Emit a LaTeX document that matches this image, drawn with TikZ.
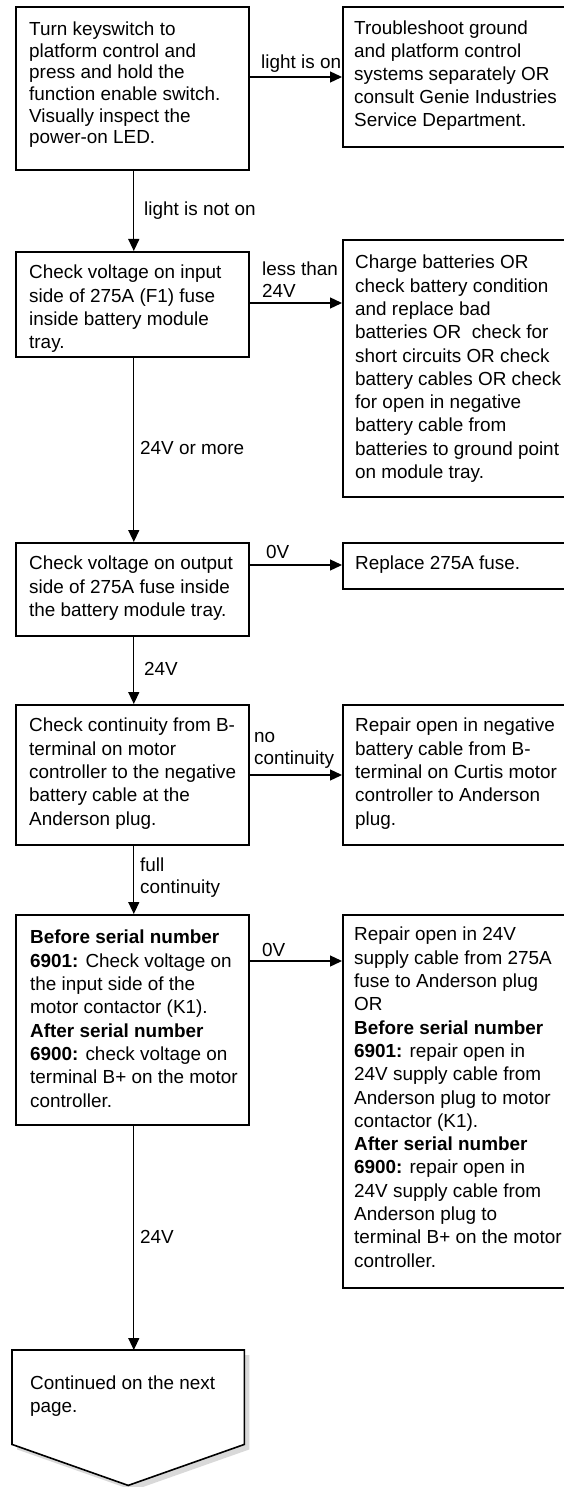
\documentclass[tikz,border=0pt]{standalone}
\usepackage{fontspec}
\setmainfont{Liberation Sans}
\usetikzlibrary{arrows.meta,calc}
\tikzset{
  box/.style={draw=black, line width=1.6pt, inner sep=0pt, anchor=north west, fill=white},
  txt/.style={inner sep=0pt, anchor=north west, align=left, font=\fontsize{18.9}{23.3}\selectfont},
  lbl/.style={inner sep=0pt, anchor=north west, align=left, font=\fontsize{18.9}{21.7}\selectfont},
  arr/.style={line width=1.3pt, -{Triangle[length=12pt,width=11pt]}},
}
\begin{document}
\begin{tikzpicture}[x=1pt,y=-1pt]
\useasboundingbox[fill=white] (0,0) rectangle (564,1487);

% left column boxes
\node[box, minimum width=233pt, minimum height=163pt] (b1) at (15,6) {};
\node[box, minimum width=233pt, minimum height=105pt] (b2) at (15,251) {};
\node[box, minimum width=233pt, minimum height=93pt]  (b3) at (15,542) {};
\node[box, minimum width=233pt, minimum height=140pt] (b4) at (15,704) {};
\node[box, minimum width=233pt, minimum height=210pt] (b5) at (15,914) {};

% right column boxes
\node[box, minimum width=226pt, minimum height=140pt] (r1) at (342,6) {};
\node[box, minimum width=226pt, minimum height=257pt] (r2) at (342,239) {};
\node[box, minimum width=226pt, minimum height=46pt]  (r3) at (342,542) {};
\node[box, minimum width=226pt, minimum height=140pt] (r4) at (342,704) {};
\node[box, minimum width=226pt, minimum height=373pt] (r5) at (342,914) {};

% off-page connector
\node[inner sep=0pt, anchor=north west, minimum width=232pt, minimum height=94pt] (e) at (12,1350) {};
\fill[black!15] ([xshift=5pt,yshift=-5pt]e.north west) -- ([xshift=5pt,yshift=-5pt]e.north east)
  -- ([xshift=5pt,yshift=-5pt]e.south east) -- ([xshift=5pt,yshift=-46pt]e.south)
  -- ([xshift=5pt,yshift=-5pt]e.south west) -- cycle;
\draw[line width=1.6pt, fill=white] (e.north west) -- (e.north east) -- (e.south east)
  -- ([yshift=-41pt]e.south) -- (e.south west) -- cycle;

% texts
\node[txt, font=\fontsize{18.9}{21.7}\selectfont] (t1) at (29,21.5) {Turn keyswitch to\\platform control and\\press and hold the\\function enable switch.\\Visually inspect the\\power-on LED.};
\node[txt, font=\fontsize{18.9}{23}\selectfont] (tr1) at (354,21) {Troubleshoot ground\\and platform control\\systems separately OR\\consult Genie Industries\\Service Department.};
\node[txt] (t2) at (29,265) {Check voltage on input\\side of 275A (F1) fuse\\inside battery module\\tray.};
\node[txt] (tr2) at (355,255) {Charge batteries OR\\check battery condition\\and replace bad\\batteries OR\ \ check for\\short circuits OR check\\battery cables OR check\\for open in negative\\battery cable from\\batteries to ground point\\on module tray.};
\node[txt] (t3) at (29,556) {Check voltage on output\\side of 275A fuse inside\\the battery module tray.};
\node[txt] (tr3) at (355,556) {Replace 275A fuse.};
\node[txt] (t4) at (29,718) {Check continuity from B-\\terminal on motor\\controller to the negative\\battery cable at the\\Anderson plug.};
\node[txt] (tr4) at (355,718) {Repair open in negative\\battery cable from B-\\terminal on Curtis motor\\controller to Anderson\\plug.};
\node[txt] (t5) at (30,930) {\textbf{Before serial number}\\\textbf{6901:} Check voltage on\\the input side of the\\motor contactor (K1).\\\textbf{After serial number}\\\textbf{6900:} check voltage on\\terminal B+ on the motor\\controller.};
\node[txt] (tr5) at (354,927) {Repair open in 24V\\supply cable from 275A\\fuse to Anderson plug\\OR\\\textbf{Before serial number}\\\textbf{6901:} repair open in\\24V supply cable from\\Anderson plug to motor\\contactor (K1).\\\textbf{After serial number}\\\textbf{6900:} repair open in\\24V supply cable from\\Anderson plug to\\terminal B+ on the motor\\controller.};
\node[txt, font=\fontsize{18.9}{22.7}\selectfont] (te) at (30,1376) {Continued on the next\\page.};

% connectors
\draw[arr] ([yshift=-71pt]b1.north east) -- ([yshift=-71pt]b1.north east -| r1.west);
\draw[arr] ([yshift=-52pt]b2.north east) -- ([yshift=-52pt]b2.north east -| r2.west);
\draw[arr] ([yshift=-23pt]b3.north east) -- ([yshift=-23pt]b3.north east -| r3.west);
\draw[arr] ([yshift=-71pt]b4.north east) -- ([yshift=-71pt]b4.north east -| r4.west);
\draw[arr] ([yshift=-47pt]b5.north east) -- ([yshift=-47pt]b5.north east -| r5.west);

\draw[arr] ([xshift=1.5pt]b1.south) -- ([xshift=1.5pt]b1.south |- b2.north);
\draw[arr] ([xshift=1.5pt]b2.south) -- ([xshift=1.5pt]b2.south |- b3.north);
\draw[arr] ([xshift=1.5pt]b3.south) -- ([xshift=1.5pt]b3.south |- b4.north);
\draw[arr] ([xshift=1.5pt]b4.south) -- ([xshift=1.5pt]b4.south |- b5.north);
\draw[arr] ([xshift=1.5pt]b5.south) -- ([xshift=1.5pt]b5.south |- e.north);

% connector labels
\node[lbl] (l1) at (261,55) {light is on};
\node[lbl] (l2) at (144,201.5) {light is not on};
\node[lbl] (l3) at (262,262) {less than\\24V};
\node[lbl] (l4) at (140,441) {24V or more};
\node[lbl] (l5) at (266,545) {0V};
\node[lbl] (l6) at (144,662) {24V};
\node[lbl] (l7) at (254,732) {no\\continuity};
\node[lbl] (l8) at (140,858) {full\\continuity};
\node[lbl] (l9) at (262,943) {0V};
\node[lbl] (l10) at (140,1230) {24V};
\end{tikzpicture}
\end{document}
